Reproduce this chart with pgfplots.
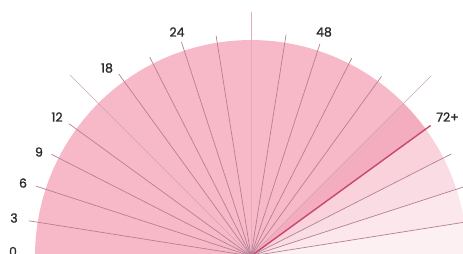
\documentclass[border=0pt]{standalone}
\usepackage{pgfplots}
\pgfplotsset{compat=1.18}
\usepackage{fontspec}
\setmainfont{Poppins}
\newfontfamily\labfont{Poppins}[FakeBold=1.2]
\definecolor{mainpink}{HTML}{F7B9C8}
\definecolor{darkwedge}{HTML}{F4ADBF}
\definecolor{wc}{HTML}{F9D2DC}
\definecolor{wd}{HTML}{FADDE4}
\definecolor{we}{HTML}{FCE7EC}
\definecolor{wf}{HTML}{FDF0F3}
\definecolor{ray}{HTML}{B47F95}
\definecolor{lightray}{HTML}{C9A4B1}
\definecolor{vray}{HTML}{E9AABD}
\definecolor{dray}{HTML}{C8466F}
\definecolor{lab}{HTML}{2A2A2A}
\begin{document}
\begin{tikzpicture}
\begin{axis}[
  scale only axis, width=463pt, height=254pt,
  xmin=-251, xmax=212, ymin=2, ymax=256,
  hide axis, clip=true,
]
% wedges (angle, radius)
\addplot[draw=none, fill=mainpink, data cs=polar] coordinates {
(0,0) (45,216) (48,216) (51,216) (54,216) (57,216) (60,216) (63,216) (66,216) (69,216) (72,216) (75,216) (78,216) (81,216) (84,216) (87,216) (90,216) (93,216) (96,216) (99,216) (102,216) (105,216) (108,216) (111,216) (114,216) (117,216) (120,216) (123,216) (126,216) (129,216) (132,216) (135,216) (138,216) (141,216) (144,216) (147,216) (150,216) (153,216) (156,216) (159,216) (162,216) (165,216) (168,216) (171,216) (174,216) (177,216) (180,216) (0,0)} \closedcycle;
\addplot[draw=none, fill=darkwedge, data cs=polar] coordinates {(0,0) (36,216) (39,216) (42,216) (45,216) (0,0)};
\addplot[draw=none, fill=wc, data cs=polar] coordinates {(0,0) (27,216) (30,216) (33,216) (36,216) (0,0)};
\addplot[draw=none, fill=wd, data cs=polar] coordinates {(0,0) (18,216) (21,216) (24,216) (27,216) (0,0)};
\addplot[draw=none, fill=we, data cs=polar] coordinates {(0,0) (9,216) (12,216) (15,216) (18,216) (0,0)};
\addplot[draw=none, fill=wf, data cs=polar] coordinates {(0,0) (0,216) (3,216) (6,216) (9,216) (0,0)};
% rays
\addplot[ray, line width=0.7pt, data cs=polar] coordinates {(171,0) (171,225)};
\addplot[ray, line width=0.7pt, data cs=polar] coordinates {(162,0) (162,226)};
\addplot[ray, line width=0.7pt, data cs=polar] coordinates {(153,0) (153,224)};
\addplot[ray, line width=0.7pt, data cs=polar] coordinates {(144,0) (144,225)};
\addplot[lightray, line width=0.6pt, data cs=polar] coordinates {(135,0) (135,256)};
\addplot[ray, line width=0.7pt, data cs=polar] coordinates {(126,0) (126,225)};
\addplot[ray, line width=0.7pt, data cs=polar] coordinates {(117,0) (117,223)};
\addplot[ray, line width=0.7pt, data cs=polar] coordinates {(108,0) (108,225)};
\addplot[ray, line width=0.7pt, data cs=polar] coordinates {(99,0) (99,223)};
\addplot[vray, line width=1pt, data cs=polar] coordinates {(90,0) (90,244)};
\addplot[ray, line width=0.7pt, data cs=polar] coordinates {(81,0) (81,224)};
\addplot[ray, line width=0.7pt, data cs=polar] coordinates {(72,0) (72,223)};
\addplot[ray, line width=0.7pt, data cs=polar] coordinates {(63,0) (63,222)};
\addplot[ray, line width=0.7pt, data cs=polar] coordinates {(54,0) (54,222)};
\addplot[lightray, line width=0.6pt, data cs=polar] coordinates {(45,0) (45,255)};
\addplot[dray, line width=1.4pt, data cs=polar] coordinates {(36,0) (36,222)};
\addplot[ray, line width=0.7pt, data cs=polar] coordinates {(27,0) (27,225)};
\addplot[ray, line width=0.7pt, data cs=polar] coordinates {(18,0) (18,228)};
\addplot[ray, line width=0.7pt, data cs=polar] coordinates {(9,0) (9,228)};
% centre glow
\addplot[only marks, mark=*, mark size=8pt, mark options={draw=none, fill=dray, fill opacity=0.25}] coordinates {(0,0)};
\addplot[only marks, mark=*, mark size=4pt, mark options={draw=none, fill=dray, fill opacity=0.35}] coordinates {(0,0)};
% labels
\begin{scope}[every node/.style={text=lab, font=\labfont\fontsize{12.5}{14}\selectfont}]
\node at (axis cs:-238,4.5) {0};
\node at (axis cs:-237,38) {3};
\node at (axis cs:-228,73) {6};
\node at (axis cs:-212,104) {9};
\node at (axis cs:-194,139) {12};
\node at (axis cs:-144,188) {18};
\node at (axis cs:-74,224) {24};
\node at (axis cs:73,224) {48};
\node[anchor=west, inner sep=0pt] at (axis cs:185,139) {72+};
\end{scope}
\end{axis}
\pgfresetboundingbox
\useasboundingbox (current axis.south west) rectangle (current axis.north east);
\end{tikzpicture}
\end{document}
